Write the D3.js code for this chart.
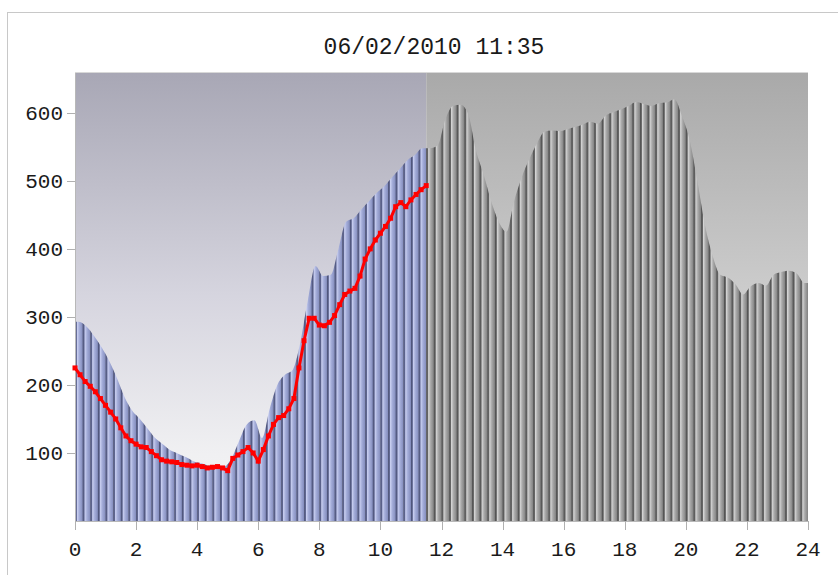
<!DOCTYPE html>
<html>
<head>
<meta charset="utf-8">
<script src="https://cdn.jsdelivr.net/npm/d3@7"></script>
<style>
  body { margin: 0; background: #fff; }
  text { font-family: "Liberation Mono", monospace; fill: #1a1a1a; }
</style>
</head>
<body>
<div id="chart"></div>
<script>
// Title
const title = "06/02/2010 11:35";

// forecast load, one bar per 15 min (00:00 .. 23:45)
const forecast = [
  293, 286, 272, 255, 235, 210, 182, 162,   // 0-2
  150, 136, 122, 113, 104, 99, 94, 88,      // 2-4
  85, 82, 82, 80, 92, 118, 142, 148,        // 4-6
  122, 165, 200, 215, 222, 262, 325, 375,   // 6-8
  360, 362, 400, 440, 445, 458, 470, 482,   // 8-10
  492, 505, 517, 530, 538, 548, 548, 552,   // 10-12
  590, 610, 612, 598, 545, 510, 470, 440,   // 12-14
  425, 470, 505, 532, 555, 572, 574, 573,   // 14-16
  576, 579, 583, 587, 584, 596, 601, 605,   // 16-18
  610, 616, 613, 610, 614, 615, 620, 595,   // 18-20
  560, 500, 435, 390, 362, 358, 348, 333,   // 20-22
  345, 350, 346, 362, 366, 368, 364, 350    // 22-24
];

// measured load, every 10 min from 00:00 to 11:30
const actual = [
  225, 215, 205, 198, 190, 180,
  170, 160, 150, 137, 125, 118,
  113, 109, 108, 102, 96, 90,
  88, 87, 86, 83, 82, 81,
  82, 80, 78, 79, 80, 78,
  74, 92, 97, 102, 108, 100,
  88, 105, 125, 142, 152, 155,
  165, 180, 225, 265, 298, 298,
  288, 287, 292, 302, 318, 333,
  338, 342, 360, 385, 400, 413,
  423, 433, 445, 462, 468, 462,
  472, 480, 487, 493
];

const nowHour = 11.5;
const xTicks = [0, 2, 4, 6, 8, 10, 12, 14, 16, 18, 20, 22, 24];
const yTicks = [100, 200, 300, 400, 500, 600];

const width = 838, height = 575;
const plotL = 75, plotR = 808, plotT = 72, plotB = 521;

const svg = d3.select("#chart").append("svg")
  .attr("width", width)
  .attr("height", height);

const x = d3.scaleLinear().domain([0, 24]).range([plotL, plotR]);
const y = d3.scaleLinear().domain([0, 660]).range([plotB, plotT]);

const defs = svg.append("defs");

function vGrad(id, stops) {
  const g = defs.append("linearGradient").attr("id", id)
    .attr("x1", 0).attr("y1", 0).attr("x2", 0).attr("y2", 1);
  stops.forEach(s => g.append("stop").attr("offset", s[0]).attr("stop-color", s[1]));
}
function hGrad(id, stops) {
  const g = defs.append("linearGradient").attr("id", id)
    .attr("x1", 0).attr("y1", 0).attr("x2", 1).attr("y2", 0);
  stops.forEach(s => g.append("stop").attr("offset", s[0]).attr("stop-color", s[1]));
}

vGrad("bgPast", [[0, "#a8a7b5"], [0.5, "#d6d5df"], [0.85, "#f0f0f2"], [1, "#f4f4f4"]]);
vGrad("bgFuture", [[0, "#a9a9a9"], [0.55, "#d0d0d0"], [1, "#e2e2e2"]]);
hGrad("barPast", [[0, "#474d70"], [0.18, "#5f6690"], [0.3, "#c8cef0"], [0.55, "#a4add9"], [1, "#8089ba"]]);
hGrad("barFuture", [[0, "#4a4a4a"], [0.18, "#666"], [0.3, "#d4d4d4"], [0.55, "#aaa"], [1, "#7d7d7d"]]);

// smooth top outline of the bars
const step = 0.25;
const outline = [[0, forecast[0]]]
  .concat(forecast.map((v, i) => [i * step + step / 2, v]))
  .concat([[24, forecast[forecast.length - 1]]]);
defs.append("clipPath").attr("id", "barClip")
  .append("path")
  .attr("d", d3.area()
    .curve(d3.curveMonotoneX)
    .x(d => x(d[0]))
    .y0(y(0))
    .y1(d => y(d[1]))(outline));

// outer frame
svg.append("rect")
  .attr("x", 7.5).attr("y", 12.5)
  .attr("width", width).attr("height", height)
  .attr("fill", "none").attr("stroke", "#c8c8c8");

// backgrounds
svg.append("rect")
  .attr("x", x(0)).attr("y", plotT)
  .attr("width", x(nowHour) - x(0)).attr("height", plotB - plotT)
  .attr("fill", "url(#bgPast)");
svg.append("rect")
  .attr("x", x(nowHour)).attr("y", plotT)
  .attr("width", x(24) - x(nowHour)).attr("height", plotB - plotT)
  .attr("fill", "url(#bgFuture)");

// bars
const bw = x(step) - x(0);
svg.append("g")
  .attr("clip-path", "url(#barClip)")
  .selectAll("rect")
  .data(forecast)
  .enter()
  .append("rect")
  .attr("x", (d, i) => x(i * step))
  .attr("y", (d, i) => y(d3.max([forecast[i - 1] || d, d, forecast[i + 1] || d])) - 2)
  .attr("width", bw + 0.3)
  .attr("height", (d, i) => y(0) - y(d3.max([forecast[i - 1] || d, d, forecast[i + 1] || d])) + 2)
  .attr("fill", (d, i) => i * step < nowHour ? "url(#barPast)" : "url(#barFuture)");

// axes
svg.append("line")
  .attr("x1", plotL + 0.5).attr("x2", plotL + 0.5)
  .attr("y1", plotT).attr("y2", plotB)
  .attr("stroke", "#b8b8b8");
svg.append("line")
  .attr("x1", plotL).attr("x2", plotR + 1)
  .attr("y1", plotB + 0.5).attr("y2", plotB + 0.5)
  .attr("stroke", "#b8b8b8");
svg.append("line")
  .attr("x1", plotL).attr("x2", plotR)
  .attr("y1", plotT + 0.5).attr("y2", plotT + 0.5)
  .attr("stroke", "#d8d8d8");

const yAxis = svg.append("g");
yAxis.selectAll("line").data(yTicks).enter().append("line")
  .attr("x1", plotL - 8).attr("x2", plotL)
  .attr("y1", d => Math.round(y(d)) + 0.5).attr("y2", d => Math.round(y(d)) + 0.5)
  .attr("stroke", "#b0b0b0");
yAxis.selectAll("text").data(yTicks).enter().append("text")
  .attr("x", plotL - 12)
  .attr("y", d => y(d))
  .attr("dy", "0.35em")
  .attr("text-anchor", "end")
  .style("font-size", "21px")
  .text(d => d);

const xAxis = svg.append("g");
xAxis.selectAll("line").data(xTicks).enter().append("line")
  .attr("x1", d => Math.round(x(d)) + 0.5).attr("x2", d => Math.round(x(d)) + 0.5)
  .attr("y1", plotB).attr("y2", plotB + 9)
  .attr("stroke", "#b0b0b0");
xAxis.selectAll("text").data(xTicks).enter().append("text")
  .attr("x", d => x(d))
  .attr("y", plotB + 28)
  .attr("dy", "0.35em")
  .attr("text-anchor", "middle")
  .style("font-size", "21px")
  .text(d => d);

// measured line
const pts = actual.map((v, i) => [i / 6, v]);
const line = d3.line().x(d => x(d[0])).y(d => y(d[1]));
svg.append("path")
  .datum(pts)
  .attr("fill", "none")
  .attr("stroke", "#f00")
  .attr("stroke-width", 3)
  .attr("d", line);
svg.append("g").selectAll("rect")
  .data(pts)
  .enter()
  .append("rect")
  .attr("x", d => x(d[0]) - 2.5)
  .attr("y", d => y(d[1]) - 2.5)
  .attr("width", 5).attr("height", 5)
  .attr("fill", "#f00");

// title
svg.append("text")
  .attr("x", 434)
  .attr("y", 46)
  .attr("dy", "0.35em")
  .attr("text-anchor", "middle")
  .style("font-size", "23px")
  .text(title);
</script>
</body>
</html>
